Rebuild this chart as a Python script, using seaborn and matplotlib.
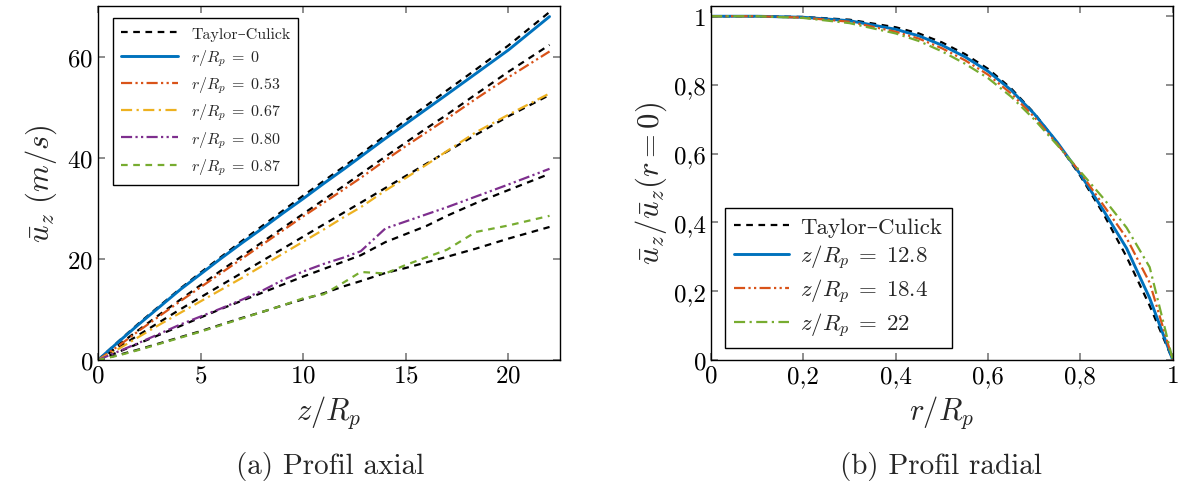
import numpy as np
import matplotlib
matplotlib.use("Agg")
import matplotlib.pyplot as plt
import seaborn as sns
from matplotlib.ticker import FuncFormatter

# ----------------------------
# Data
# ----------------------------
z_axial = [0, 1, 2, 3, 4, 5, 6, 7, 8, 9, 10, 11, 12, 12.8, 14, 15, 16, 17, 18.4, 20, 22]

u_r0 = [0, 3.6, 7.1, 10.5, 13.9, 17.0, 20.1, 23.1, 26.0, 29.0, 31.9, 34.9, 37.8, 40.2, 43.8, 46.7, 49.6, 52.5, 56.6, 61.3, 67.9]
tc_r0 = [0, 3.7, 7.3, 10.7, 14.1, 17.3, 20.4, 23.5, 26.5, 29.5, 32.5, 35.4, 38.3, 40.7, 44.4, 47.4, 50.3, 53.3, 57.4, 62.2, 68.8]

u_r053 = [0, 2.8, 5.8, 8.7, 11.6, 14.4, 17.2, 20.0, 22.8, 25.6, 28.4, 31.1, 33.8, 36.0, 39.5, 42.3, 45.0, 47.7, 51.6, 55.9, 61.0]
tc_r053 = [0, 3.0, 6.0, 9.0, 11.9, 14.8, 17.7, 20.5, 23.3, 26.1, 28.9, 31.7, 34.5, 36.8, 40.2, 43.0, 45.8, 48.5, 52.5, 57.0, 62.3]

u_r067 = [0, 2.2, 4.6, 7.0, 9.3, 11.6, 13.9, 16.2, 18.6, 21.0, 23.4, 25.8, 28.3, 30.2, 33.5, 36.0, 38.6, 41.3, 45.0, 48.5, 52.7]
tc_r067 = [0, 2.5, 5.0, 7.5, 10.0, 12.4, 14.8, 17.2, 19.6, 22.0, 24.4, 26.8, 29.2, 31.1, 34.0, 36.4, 38.8, 41.2, 44.5, 48.2, 52.4]

u_r080 = [0, 1.7, 3.4, 5.2, 7.0, 8.6, 10.2, 11.9, 13.7, 15.8, 17.5, 19.0, 20.3, 21.5, 26.0, 27.4, 28.8, 30.2, 32.3, 34.7, 37.8]
tc_r080 = [0, 1.6, 3.3, 5.0, 6.7, 8.4, 10.1, 11.7, 13.3, 14.9, 16.5, 18.0, 19.5, 20.7, 23.3, 24.9, 26.5, 28.5, 31.0, 33.6, 36.8]

u_r087 = [0, 0.9, 2.0, 3.2, 4.4, 5.6, 6.9, 8.2, 9.5, 10.8, 12.2, 13.0, 15.4, 17.4, 17.1, 18.8, 20.3, 21.8, 25.3, 26.6, 28.5]
tc_r087 = [0, 1.0, 2.1, 3.3, 4.5, 5.7, 7.0, 8.3, 9.5, 10.8, 12.0, 13.2, 14.6, 15.6, 17.2, 18.2, 19.3, 20.4, 22.0, 24.0, 26.3]

r_radial = [0, 0.1, 0.2, 0.3, 0.4, 0.45, 0.5, 0.55, 0.6, 0.65, 0.7, 0.75, 0.8, 0.85, 0.9, 0.95, 1.0]
tc_radial = [1, 1, 0.998, 0.990, 0.968, 0.950, 0.924, 0.890, 0.847, 0.790, 0.718, 0.632, 0.535, 0.425, 0.300, 0.158, 0]
u_z128 = [1, 1, 0.997, 0.987, 0.962, 0.943, 0.916, 0.882, 0.840, 0.785, 0.716, 0.633, 0.540, 0.435, 0.325, 0.180, 0]
u_z184 = [1, 1, 0.996, 0.984, 0.955, 0.935, 0.907, 0.872, 0.830, 0.775, 0.707, 0.628, 0.545, 0.450, 0.355, 0.225, 0]
u_z22 = [1, 1, 0.995, 0.980, 0.950, 0.928, 0.898, 0.862, 0.820, 0.766, 0.700, 0.625, 0.548, 0.470, 0.385, 0.270, 0]

# ----------------------------
# Style
# ----------------------------
sns.set_theme(style="ticks")
plt.rcParams.update({
    "font.family": ["cmr10", "DejaVu Serif"],
    "mathtext.fontset": "cm",
    "axes.formatter.use_mathtext": True,
    "axes.edgecolor": "black",
    "axes.linewidth": 1.0,
    "xtick.direction": "in",
    "ytick.direction": "in",
    "xtick.top": True,
    "ytick.right": True,
    "xtick.color": "#808080",
    "ytick.color": "#808080",
    "xtick.labelcolor": "black",
    "ytick.labelcolor": "black",
    "xtick.major.size": 5,
    "ytick.major.size": 5,
    "xtick.labelsize": 18,
    "ytick.labelsize": 18,
})

blue, orange, yellow, purple, green = "#0072BD", "#D95319", "#EDB120", "#7E2F8E", "#77AC30"
dashed = (0, (3, 2.5))
dashdot = (0, (5, 2, 1, 2))
dashdotdot = (0, (5, 1.5, 1, 1.5, 1, 1.5))
lw = 1.6

fig = plt.figure(figsize=(11.87, 4.89), dpi=100)
ax1 = fig.add_axes([0.0826, 0.2618, 0.389, 0.724])
ax2 = fig.add_axes([0.599, 0.2618, 0.389, 0.724])

# ----------------------------
# (a) Profil axial
# ----------------------------
sns.lineplot(x=z_axial, y=tc_r0, ax=ax1, color="black", linestyle=dashed, lw=lw, label="Taylor–Culick")
for tc in [tc_r053, tc_r067, tc_r080, tc_r087]:
    sns.lineplot(x=z_axial, y=tc, ax=ax1, color="black", linestyle=dashed, lw=lw)
sns.lineplot(x=z_axial, y=u_r0, ax=ax1, color=blue, linestyle="-", lw=lw + 0.5, label=r"$r/R_p\;=\;0$")
sns.lineplot(x=z_axial, y=u_r053, ax=ax1, color=orange, linestyle=dashdotdot, lw=lw, label=r"$r/R_p\;=\;0.53$")
sns.lineplot(x=z_axial, y=u_r067, ax=ax1, color=yellow, linestyle=dashdot, lw=lw, label=r"$r/R_p\;=\;0.67$")
sns.lineplot(x=z_axial, y=u_r080, ax=ax1, color=purple, linestyle=dashdotdot, lw=lw, label=r"$r/R_p\;=\;0.80$")
sns.lineplot(x=z_axial, y=u_r087, ax=ax1, color=green, linestyle=dashed, lw=lw, label=r"$r/R_p\;=\;0.87$")

ax1.set_xlim(0, 22.5)
ax1.set_ylim(0, 70)
ax1.set_xticks([0, 5, 10, 15, 20])
ax1.set_yticks([0, 20, 40, 60])
ax1.set_xlabel(r"$z/R_p$", fontsize=22, labelpad=4)
ax1.set_ylabel(r"$\bar{u}_z\ (m/s)$", fontsize=22, labelpad=6)
leg1 = ax1.legend(loc="upper left", bbox_to_anchor=(0.032, 0.965), borderaxespad=0,
                  fontsize=11.5, handlelength=3.6, fancybox=False, framealpha=1,
                  edgecolor="black", labelspacing=0.42, borderpad=0.5)
leg1.get_frame().set_linewidth(1.0)

# ----------------------------
# (b) Profil radial
# ----------------------------
sns.lineplot(x=r_radial, y=tc_radial, ax=ax2, color="black", linestyle=dashed, lw=lw, label="Taylor–Culick")
sns.lineplot(x=r_radial, y=u_z128, ax=ax2, color=blue, linestyle="-", lw=lw + 0.5, label=r"$z/R_p\;=\;12.8$")
sns.lineplot(x=r_radial, y=u_z184, ax=ax2, color=orange, linestyle=dashdotdot, lw=lw, label=r"$z/R_p\;=\;18.4$")
sns.lineplot(x=r_radial, y=u_z22, ax=ax2, color=green, linestyle=dashdot, lw=lw, label=r"$z/R_p\;=\;22$")

ax2.set_xlim(0, 1)
ax2.set_ylim(0, 1.03)
ax2.set_xticks([0, 0.2, 0.4, 0.6, 0.8, 1])
ax2.set_yticks([0, 0.2, 0.4, 0.6, 0.8, 1])
comma = FuncFormatter(lambda v, p: ("%g" % round(v, 2)).replace(".", ","))
ax2.xaxis.set_major_formatter(comma)
ax2.yaxis.set_major_formatter(comma)
ax2.set_xlabel(r"$r/R_p$", fontsize=22, labelpad=4)
ax2.set_ylabel(r"$\bar{u}_z/\bar{u}_z(r=0)$", fontsize=22, labelpad=4)
leg2 = ax2.legend(loc="lower left", bbox_to_anchor=(0.03, 0.034), borderaxespad=0,
                  fontsize=16.5, handlelength=2.4, fancybox=False, framealpha=1,
                  edgecolor="black", labelspacing=0.25, handletextpad=0.5)
leg2.get_frame().set_linewidth(1.0)

# captions
fig.text(0.278, 0.03, "(a) Profil axial", ha="center", fontsize=21)
fig.text(0.793, 0.03, "(b) Profil radial", ha="center", fontsize=21)

fig.savefig("out.png", dpi=100)
